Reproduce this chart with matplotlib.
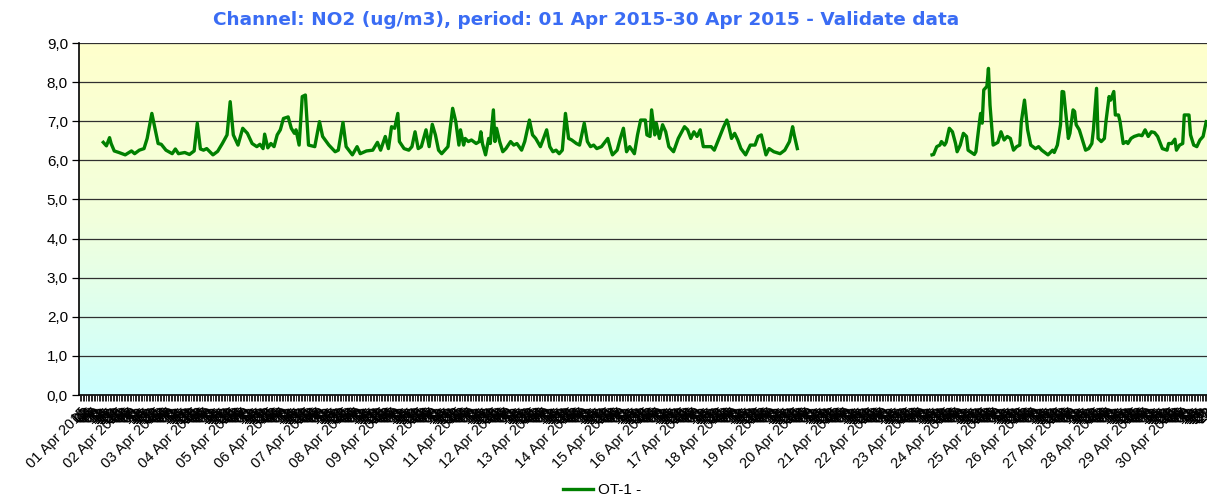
import numpy as np
import matplotlib
matplotlib.use("Agg")
import matplotlib.pyplot as plt
import matplotlib.transforms as mtransforms
from matplotlib.colors import LinearSegmentedColormap
from matplotlib.ticker import FuncFormatter

# hours counted from 01 Apr 2015 00:00, NO2 values (ug/m3); NaN marks the data gap
hours = [15, 17, 19, 20, 22, 25, 29, 33, 35, 38, 41, 43, 46, 48, 50, 52, 55, 59, 61, 63,
         67, 70, 73, 75, 77, 79, 81, 85, 88, 91, 94, 96, 98, 101, 104, 107, 110, 113, 115, 117,
         118, 120, 122, 124, 126, 128, 130, 133, 135, 137, 138, 140, 142, 144, 146, 150, 153, 155, 159, 163,
         165, 168, 170, 174, 177, 179, 183, 187, 190, 192, 195, 197, 199, 201, 203, 204, 207, 210, 212, 214,
         216, 218, 221, 223, 225, 227, 229, 231, 233, 235, 238, 240, 242, 243, 245, 246, 248, 250, 253, 255,
         256, 257, 259, 261, 262, 264, 265, 266, 268, 270, 272, 275, 277, 279, 282, 284, 287, 289, 291, 294,
         296, 298, 300, 302, 304, 306, 308, 310, 312, 314, 317, 319, 322, 324, 326, 328, 330, 333, 337, 339,
         340, 343, 345, 347, 349, 351, 354, 356, 358, 361, 362, 364, 365, 367, 368, 370, 372, 374, 376, 379,
         382, 386, 388, 390, 392, 394, 396, 398, 403, 405, 408, 411, 413, 414, 416, 418, 420, 422, 425, 428,
         431, 433, 435, 438, 440, 443, 447, 450, 453, 455, 456, 458,
         500,
         544, 545, 547, 549, 550, 552, 553, 555, 557, 559, 560, 562, 564, 566, 567, 571, 572, 574, 575, 576,
         577, 579, 580, 581, 583, 586, 588, 590, 592, 594, 596, 598, 600, 601, 603, 605, 607, 610, 612, 614,
         618, 621, 622, 624, 626, 627, 628, 630, 631, 632, 634, 635, 636, 638, 640, 642, 644, 646, 647, 649,
         650, 652, 654, 655, 657, 658, 660, 661, 663, 664, 666, 668, 669, 671, 673, 676, 678, 680, 682, 684,
         686, 688, 691, 694, 695, 697, 699, 700, 702, 704, 705, 708, 709, 711, 713, 715, 717, 719]
no2 = [6.46, 6.37, 6.58, 6.43, 6.24, 6.20, 6.14, 6.24, 6.17, 6.26, 6.30, 6.56, 7.20, 6.82, 6.43, 6.41, 6.26, 6.17, 6.29, 6.17,
       6.20, 6.15, 6.24, 6.95, 6.29, 6.26, 6.30, 6.14, 6.23, 6.43, 6.65, 7.50, 6.65, 6.39, 6.82, 6.69, 6.43, 6.35, 6.41, 6.30,
       6.67, 6.32, 6.43, 6.35, 6.65, 6.78, 7.07, 7.11, 6.82, 6.69, 6.78, 6.39, 7.63, 7.67, 6.39, 6.35, 6.99, 6.61, 6.39, 6.22,
       6.26, 6.97, 6.35, 6.14, 6.35, 6.17, 6.24, 6.26, 6.46, 6.26, 6.61, 6.30, 6.86, 6.82, 7.20, 6.48, 6.30, 6.26, 6.35, 6.73,
       6.30, 6.35, 6.78, 6.35, 6.92, 6.65, 6.26, 6.17, 6.26, 6.35, 7.33, 6.99, 6.39, 6.78, 6.39, 6.56, 6.48, 6.52, 6.43, 6.48,
       6.73, 6.43, 6.14, 6.56, 6.43, 7.29, 6.48, 6.82, 6.48, 6.22, 6.30, 6.48, 6.39, 6.43, 6.26, 6.48, 7.03, 6.65, 6.56, 6.35,
       6.56, 6.78, 6.35, 6.22, 6.26, 6.17, 6.26, 7.20, 6.56, 6.52, 6.43, 6.39, 6.95, 6.48, 6.35, 6.39, 6.30, 6.35, 6.56, 6.26,
       6.14, 6.26, 6.56, 6.82, 6.22, 6.35, 6.17, 6.65, 7.03, 7.03, 6.65, 6.61, 7.29, 6.65, 6.95, 6.56, 6.91, 6.73, 6.35, 6.22,
       6.56, 6.86, 6.78, 6.56, 6.73, 6.61, 6.78, 6.35, 6.35, 6.26, 6.56, 6.86, 7.03, 6.91, 6.56, 6.69, 6.52, 6.30, 6.14, 6.39,
       6.39, 6.61, 6.65, 6.14, 6.30, 6.22, 6.17, 6.26, 6.48, 6.86, 6.65, 6.30,
       np.nan,
       6.14, 6.15, 6.35, 6.39, 6.48, 6.39, 6.46, 6.82, 6.73, 6.43, 6.22, 6.39, 6.69, 6.61, 6.26, 6.15, 6.22, 6.89, 7.20, 6.95,
       7.80, 7.89, 8.35, 7.41, 6.39, 6.46, 6.73, 6.52, 6.61, 6.56, 6.26, 6.35, 6.39, 6.99, 7.54, 6.78, 6.39, 6.30, 6.35, 6.26,
       6.14, 6.26, 6.20, 6.39, 6.91, 7.76, 7.75, 6.95, 6.56, 6.69, 7.29, 7.25, 6.91, 6.78, 6.52, 6.26, 6.30, 6.43, 6.78, 7.84,
       6.56, 6.48, 6.56, 6.99, 7.63, 7.54, 7.76, 7.16, 7.16, 6.99, 6.43, 6.48, 6.43, 6.56, 6.61, 6.65, 6.63, 6.78, 6.61, 6.73,
       6.71, 6.61, 6.30, 6.26, 6.43, 6.43, 6.54, 6.26, 6.39, 6.43, 7.16, 7.16, 6.65, 6.39, 6.35, 6.52, 6.61, 6.99]

n_hours = 720
yticks = np.arange(0, 10, 1)
title = "Channel: NO2 (ug/m3), period: 01 Apr 2015-30 Apr 2015 - Validate data"
series_name = "OT-1 -"

W, H = 1207, 498
fig = plt.figure(figsize=(W / 100, H / 100), dpi=100)
ax = fig.add_axes([79 / W, 1 - 395 / H, 1 - 79 / W, (395 - 43) / H])

# yellow -> cyan gradient behind the plot
cmap = LinearSegmentedColormap.from_list("bg", ["#ccffff", "#f2ffdc", "#ffffcc"])
grad = np.linspace(0, 1, 256).reshape(-1, 1)
ax.imshow(grad, aspect="auto", cmap=cmap, origin="lower",
          extent=[0, 1, 0, 1], transform=ax.transAxes, zorder=0)

for v in yticks[1:]:
    ax.axhline(v, color="#303030", lw=0.9, zorder=1)

ax.plot(hours, no2, color="#008000", lw=2.4, zorder=3, label=series_name)

ax.set_xlim(-0.5, n_hours - 0.5)
ax.set_ylim(0, 9)
ax.set_yticks(yticks)
ax.yaxis.set_major_formatter(FuncFormatter(lambda v, p: f"{v:.1f}".replace(".", ",")))

ticks = np.arange(n_hours)
labels = []
for h in ticks:
    if h % 24 == 0:
        labels.append(f"{h // 24 + 1:02d} Apr 2015")
    else:
        labels.append(f"{h % 24:02d}")
ax.set_xticks(ticks)
ax.set_xticklabels(labels, rotation=45, ha="right", rotation_mode="anchor",
                   fontsize=10.5, family="Liberation Sans")
# shift the slanted labels a bit to the left, like the original
shift = mtransforms.ScaledTranslation(-0.09, -0.01, fig.dpi_scale_trans)
for lab in ax.get_xticklabels():
    lab.set_transform(lab.get_transform() + shift)

ax.tick_params(axis="x", length=4, width=0.6, pad=3)
ax.tick_params(axis="y", length=5, width=0.9, pad=3, labelsize=11)
for lab in ax.get_yticklabels():
    lab.set_family("Liberation Sans")

for s in ["top", "right"]:
    ax.spines[s].set_visible(False)
ax.spines["left"].set_linewidth(1.2)
ax.spines["bottom"].set_linewidth(1.2)

fig.text(586 / W, 1 - 20 / H, title, color="#3a6cf4", fontsize=13.3, fontweight="bold",
         ha="center", va="center", family="DejaVu Sans")

fig.legend(loc="center", bbox_to_anchor=(602 / W, 1 - 490 / H), frameon=False,
           prop={"family": "Liberation Sans", "size": 11}, handlelength=2.0, handletextpad=0.3)

fig.savefig("out.png", dpi=100)
